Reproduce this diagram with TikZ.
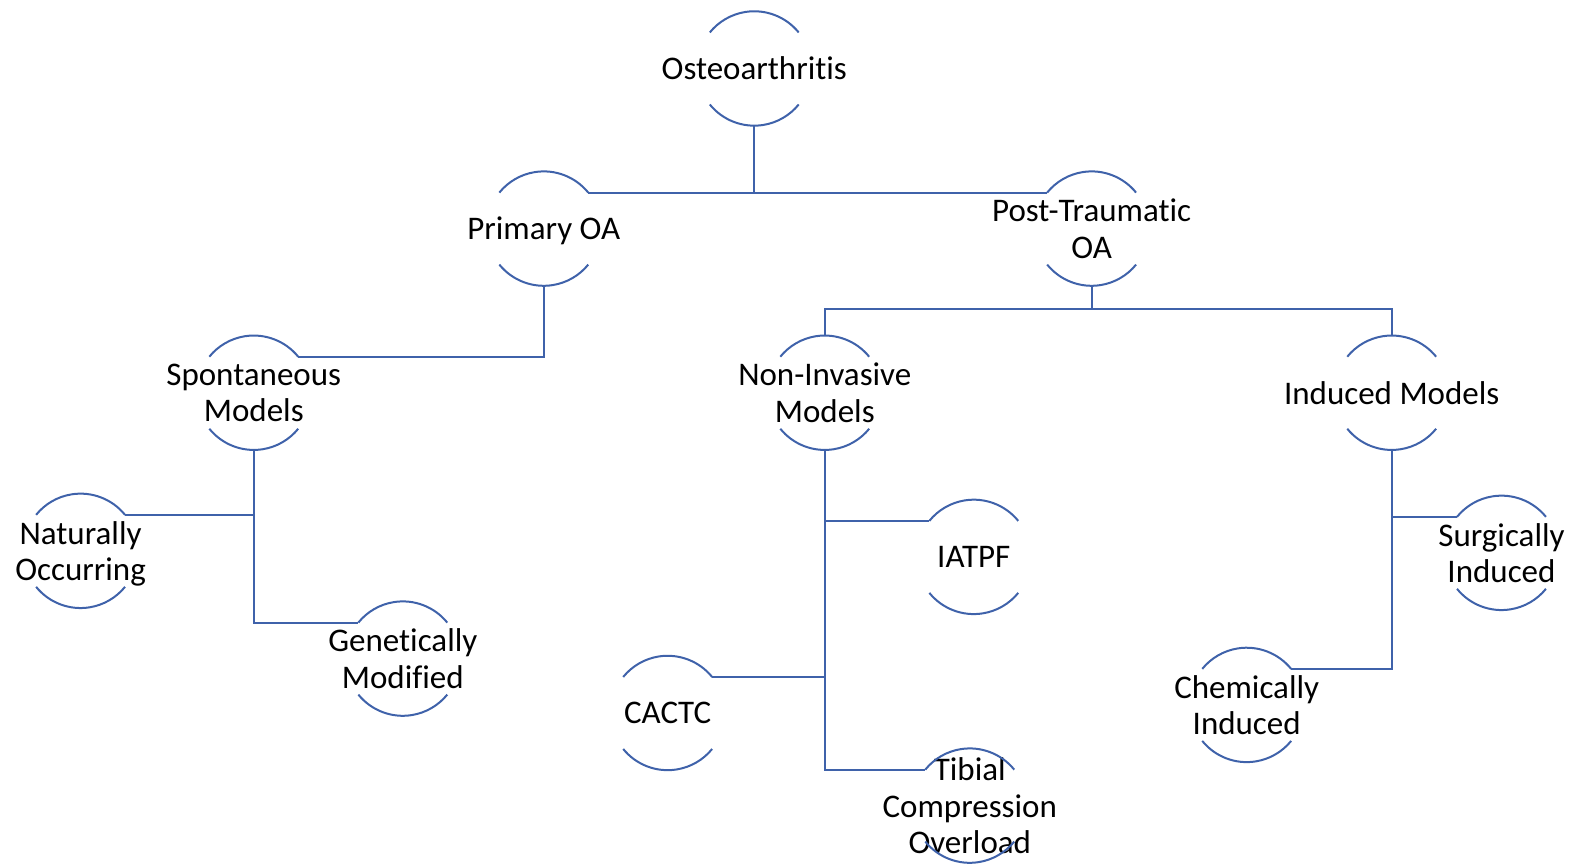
\documentclass[tikz,border=0pt]{standalone}
\usepackage{fontspec}
\setmainfont{Carlito}[Ligatures={NoCommon}]
\definecolor{linecol}{RGB}{63,98,170}
\begin{document}
\begin{tikzpicture}[x=0.50351pt,y=-0.50351pt,
  lbl/.style={align=center,inner sep=0pt,text depth=0pt,font=\fontsize{16.5pt}{18.1pt}\selectfont,text=black},
  conn/.style={draw=linecol,line width=1pt},
  arcline/.style={draw=linecol,line width=1pt}]
\useasboundingbox (0,0) rectangle (1568,861);
\def\R{28.6pt}
\node[lbl] (oa) at (749,68) {Osteoarthritis};
\node[lbl] (poa) at (540,227) {Primary OA};
\node[lbl] (pto) at (1084,227) {Post-Traumatic\\OA};
\node[lbl] (sm) at (252,390) {Spontaneous\\Models};
\node[lbl] (ni) at (819,390) {Non-Invasive\\Models};
\node[lbl] (im) at (1382,390) {Induced Models};
\node[lbl] (no) at (80,547) {Naturally\\Occurring};
\node[lbl] (gm) at (400,654) {Genetically\\Modified};
\node[lbl] (iatpf) at (967,553) {IATPF};
\node[lbl] (cactc) at (663,708) {CACTC};
\node[lbl] (tco) at (963,800) {Tibial\\Compression\\Overload};
\node[lbl] (si) at (1491,549) {Surgically\\Induced};
\node[lbl] (ci) at (1238,700) {Chemically\\Induced};
\foreach \n in {oa,poa,pto,sm,ni,im,no,gm,iatpf,cactc,tco,si,ci}{
  \draw[arcline] ([shift={(39:\R)}]\n.center) arc[start angle=39,end angle=141,radius=\R];
  \draw[arcline] ([shift={(219:\R)}]\n.center) arc[start angle=219,end angle=321,radius=\R];
}
% connectors
\draw[conn] ([yshift=-\R]oa.center) |- ([shift={(39:\R)}]poa.center);
\draw[conn] ([yshift=-\R]oa.center) |- ([shift={(141:\R)}]pto.center);
\draw[conn] ([yshift=-\R]pto.center) -- ++(0,23) -| ([yshift=\R]ni.center);
\draw[conn] ([yshift=-\R]pto.center) -- ++(0,23) -| ([yshift=\R]im.center);
\draw[conn] ([yshift=-\R]poa.center) |- ([shift={(39:\R)}]sm.center);
\draw[conn] ([yshift=-\R]sm.center) |- ([shift={(39:\R)}]no.center);
\draw[conn] ([yshift=-\R]sm.center) |- ([shift={(141:\R)}]gm.center);
\draw[conn] ([yshift=-\R]ni.center) |- ([shift={(141:\R)}]iatpf.center);
\draw[conn] ([yshift=-\R]ni.center) |- ([shift={(39:\R)}]cactc.center);
\draw[conn] ([yshift=-\R]ni.center) |- ([shift={(141:\R)}]tco.center);
\draw[conn] ([yshift=-\R]im.center) |- ([shift={(141:\R)}]si.center);
\draw[conn] ([yshift=-\R]im.center) |- ([shift={(39:\R)}]ci.center);
\end{tikzpicture}
\end{document}
